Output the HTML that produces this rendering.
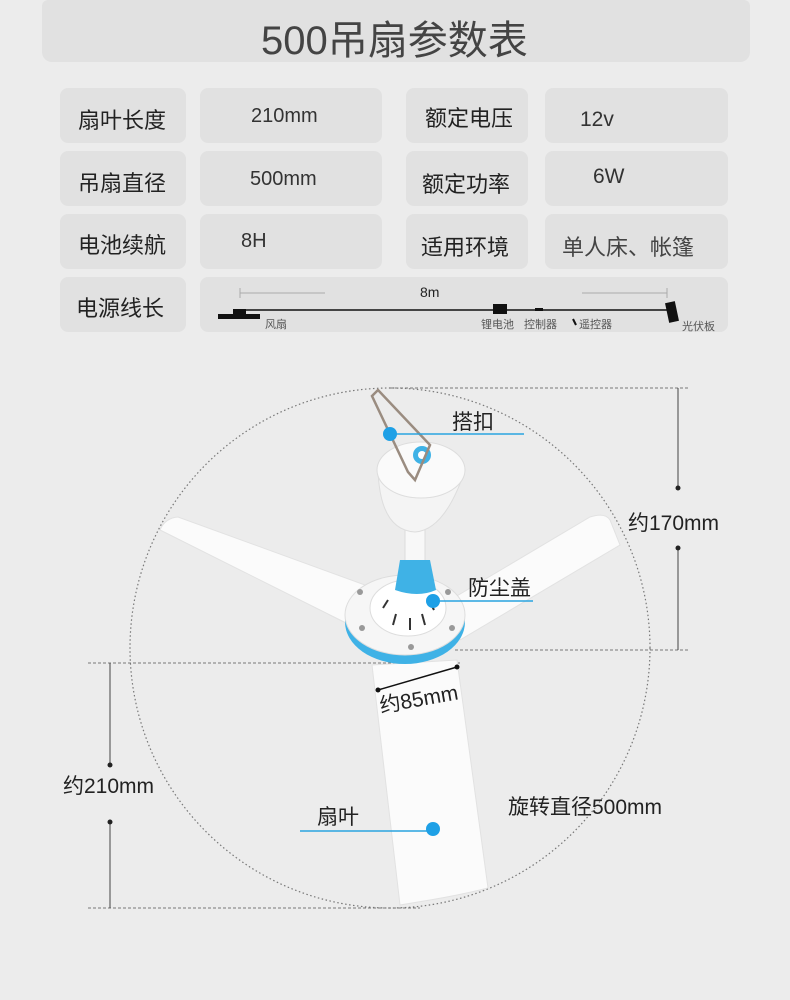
<!DOCTYPE html>
<html><head><meta charset="utf-8"><style>
html,body{margin:0;padding:0;background:#ececec;}
body{width:790px;height:1000px;position:relative;overflow:hidden;font-family:"Liberation Sans","Noto Sans CJK SC",sans-serif;color:#222;}
.b{position:absolute;background:#e1e1e1;border-radius:8px;}
.t{position:absolute;font-size:22px;color:#222;white-space:nowrap;}
</style></head><body>
<div class="b" style="left:42px;top:0;width:708px;height:62px;border-radius:6px 6px 10px 10px;"></div>
<div class="t" style="left:261px;top:8px;font-size:40px;color:#444;">500吊扇参数表</div>

<div class="b" style="left:60px;top:88px;width:126px;height:55px"></div>
<div class="b" style="left:200px;top:88px;width:182px;height:55px"></div>
<div class="b" style="left:406px;top:88px;width:122px;height:55px"></div>
<div class="b" style="left:545px;top:88px;width:183px;height:55px"></div>
<div class="b" style="left:60px;top:151px;width:126px;height:55px"></div>
<div class="b" style="left:200px;top:151px;width:182px;height:55px"></div>
<div class="b" style="left:406px;top:151px;width:122px;height:55px"></div>
<div class="b" style="left:545px;top:151px;width:183px;height:55px"></div>
<div class="b" style="left:60px;top:214px;width:126px;height:55px"></div>
<div class="b" style="left:200px;top:214px;width:182px;height:55px"></div>
<div class="b" style="left:406px;top:214px;width:122px;height:55px"></div>
<div class="b" style="left:545px;top:214px;width:183px;height:55px"></div>
<div class="b" style="left:60px;top:277px;width:126px;height:55px"></div>
<div class="b" style="left:200px;top:277px;width:528px;height:55px"></div>

<div class="t" style="left:78px;top:103px">扇叶长度</div>
<div class="t" style="left:251px;top:105px;font-size:20px;color:#333">210mm</div>
<div class="t" style="left:425px;top:101px">额定电压</div>
<div class="t" style="left:580px;top:108px;font-size:21px;color:#333">12v</div>
<div class="t" style="left:78px;top:166px">吊扇直径</div>
<div class="t" style="left:250px;top:168px;font-size:20px;color:#333">500mm</div>
<div class="t" style="left:422px;top:167px">额定功率</div>
<div class="t" style="left:593px;top:165px;font-size:21px;color:#333">6W</div>
<div class="t" style="left:78px;top:228px">电池续航</div>
<div class="t" style="left:241px;top:230px;font-size:20px;color:#333">8H</div>
<div class="t" style="left:421px;top:230px">适用环境</div>
<div class="t" style="left:562px;top:230px;color:#444">单人床、帐篷</div>
<div class="t" style="left:76px;top:291px">电源线长</div>

<svg width="790" height="1000" style="position:absolute;left:0;top:0" xmlns="http://www.w3.org/2000/svg">
<g stroke="#aaa" stroke-width="1" fill="none">
<line x1="240" y1="293" x2="325" y2="293"/><line x1="240" y1="288" x2="240" y2="298"/>
<line x1="582" y1="293" x2="667" y2="293"/><line x1="667" y1="288" x2="667" y2="298"/>
</g>
<text x="420" y="297" font-size="14" fill="#222" font-family="Liberation Sans,sans-serif">8m</text>
<line x1="240" y1="310" x2="670" y2="310" stroke="#111" stroke-width="1.5"/>
<rect x="218" y="314" width="42" height="5" fill="#111"/><rect x="233" y="309" width="13" height="6" fill="#111"/>
<rect x="493" y="304" width="14" height="10" fill="#111"/>
<rect x="535" y="308" width="8" height="3" fill="#111"/>
<rect x="667" y="302" width="10" height="20" fill="#111" transform="rotate(-12 672 312)"/>
<line x1="573" y1="319" x2="576" y2="325" stroke="#111" stroke-width="2"/>
<g font-size="11" fill="#555" font-family="Liberation Sans,Noto Sans CJK SC,sans-serif">
<text x="265" y="328">风扇</text><text x="481" y="328">锂电池</text><text x="524" y="328">控制器</text><text x="579" y="328">遥控器</text><text x="682" y="330">光伏板</text>
</g>

<circle cx="390" cy="648" r="260" fill="none" stroke="#777" stroke-width="1.2" stroke-dasharray="1.5 2.5"/>
<g stroke="#777" stroke-width="1" stroke-dasharray="3 2" fill="none">
<line x1="390" y1="388" x2="690" y2="388"/>
<line x1="455" y1="650" x2="690" y2="650"/>
<line x1="88" y1="663" x2="460" y2="663"/>
<line x1="88" y1="908" x2="420" y2="908"/>
</g>
<g stroke="#444" stroke-width="1">
<line x1="678" y1="388" x2="678" y2="488"/><line x1="678" y1="548" x2="678" y2="650"/>
<line x1="110" y1="663" x2="110" y2="765"/><line x1="110" y1="822" x2="110" y2="908"/>
</g>
<g fill="#222"><circle cx="678" cy="488" r="2.5"/><circle cx="678" cy="548" r="2.5"/><circle cx="110" cy="765" r="2.5"/><circle cx="110" cy="822" r="2.5"/></g>

<g fill="#fbfbfb" stroke="#e2e2e2" stroke-width="1">
<path d="M160 530 Q165 518 178 517 L365 585 L350 625 Z"/>
<path d="M450 600 L590 517 Q605 512 610 520 L620 545 L460 640 Z"/>
<path d="M372 665 L457 660 L488 888 Q460 895 430 900 L400 905 Z"/>
</g>
<ellipse cx="405" cy="622" rx="60" ry="42" fill="#3fb2e6"/>
<ellipse cx="405" cy="615" rx="60" ry="40" fill="#f6f6f6" stroke="#ddd"/>
<ellipse cx="408" cy="608" rx="38" ry="28" fill="#fff" stroke="#ddd"/>
<g stroke="#333" stroke-width="2"><line x1="383" y1="608" x2="388" y2="600"/><line x1="393" y1="625" x2="396" y2="614"/><line x1="410" y1="630" x2="410" y2="618"/><line x1="425" y1="625" x2="422" y2="614"/><line x1="434" y1="610" x2="430" y2="602"/></g>
<g fill="#999"><circle cx="360" cy="592" r="3"/><circle cx="448" cy="592" r="3"/><circle cx="362" cy="628" r="3"/><circle cx="452" cy="628" r="3"/><circle cx="411" cy="647" r="3"/></g>
<rect x="405" y="525" width="20" height="40" fill="#f8f8f8" stroke="#ddd"/>
<path d="M400 560 L430 560 L436 590 Q418 598 395 590 Z" fill="#3fb2e6"/>
<path d="M378 470 Q380 530 415 532 Q445 530 465 470 Z" fill="#f4f4f4" stroke="#ddd"/>
<ellipse cx="421" cy="470" rx="44" ry="28" fill="#fafafa" stroke="#ddd"/>
<circle cx="422" cy="455" r="9" fill="#3fb2e6"/><circle cx="422" cy="455" r="4" fill="#fff"/>
<path d="M372 396 L378 390 L430 445 L415 480 L408 472 Z" fill="none" stroke="#9a8c80" stroke-width="2.5"/>

<g stroke="#29a3e0" stroke-width="1.5"><line x1="390" y1="434" x2="524" y2="434"/><line x1="433" y1="601" x2="533" y2="601"/><line x1="300" y1="831" x2="433" y2="831"/></g>
<g fill="#1ea0e6"><circle cx="390" cy="434" r="7"/><circle cx="433" cy="601" r="7"/><circle cx="433" cy="829" r="7"/></g>
<line x1="378" y1="690" x2="457" y2="667" stroke="#111" stroke-width="1.5"/>
<circle cx="378" cy="690" r="2.5" fill="#111"/><circle cx="457" cy="667" r="2.5" fill="#111"/>
<g font-family="Liberation Sans,Noto Sans CJK SC,sans-serif" fill="#222" font-size="21">
<text x="452" y="429">搭扣</text>
<text x="468" y="595">防尘盖</text>
<text x="381" y="713" transform="rotate(-10 381 713)">约85mm</text>
<text x="628" y="530">约170mm</text>
<text x="63" y="793">约210mm</text>
<text x="317" y="824">扇叶</text>
<text x="508" y="814">旋转直径500mm</text>
</g>
</svg>
</body></html>
